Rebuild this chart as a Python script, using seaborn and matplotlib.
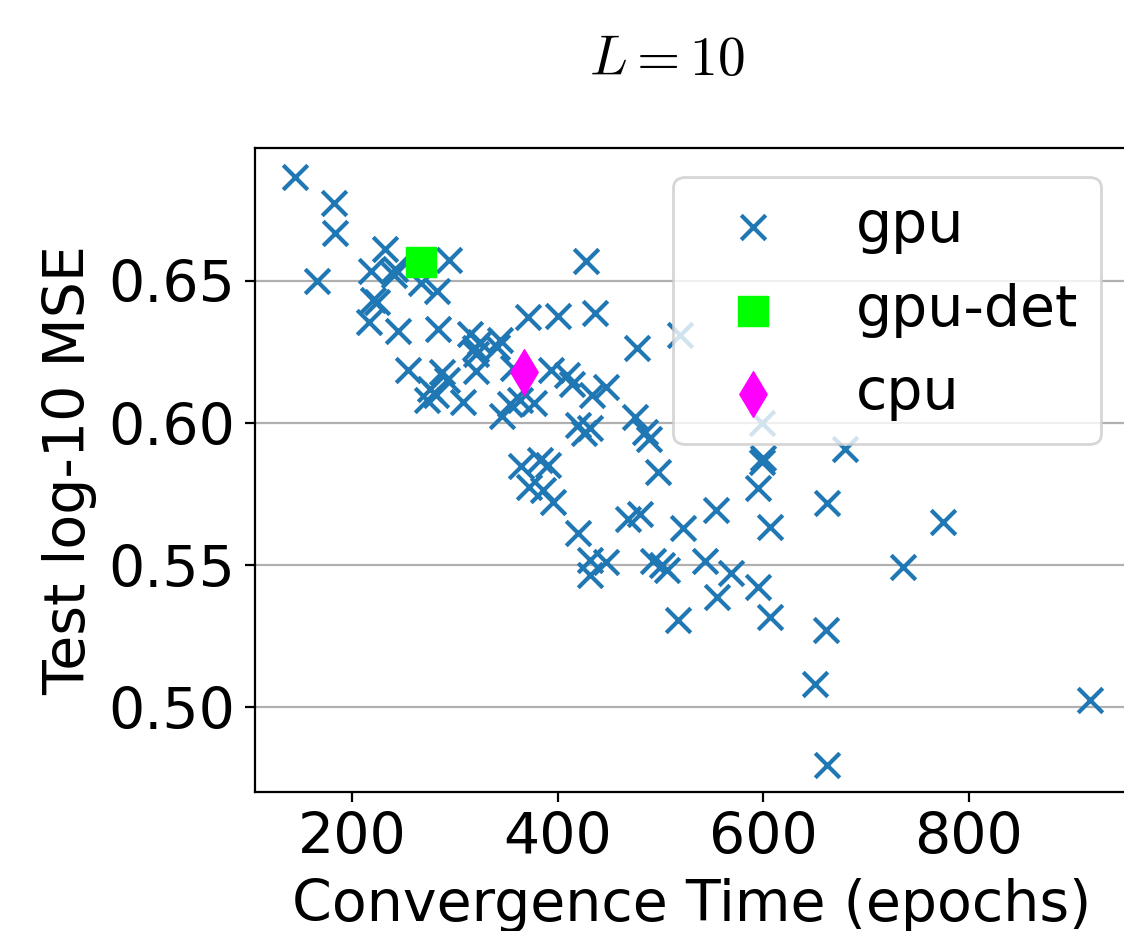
import matplotlib
matplotlib.use("Agg")
import matplotlib.pyplot as plt
import seaborn as sns

# ---------------------------------------------------------------
# data (L = 10 runs)
# ---------------------------------------------------------------
gpu_time = [
    144.5, 182.5, 183.5, 165.7, 232.2, 218.5, 241.8, 240.9, 267.2, 282.8,
    294.4, 220.4, 224.3, 216.5, 244.8, 283.7, 314.8, 319.7, 320.7, 344.0,
    341.1, 324.6, 371.3, 400.5, 436.5, 427.7, 477.4, 519.2, 254.5, 287.6,
    292.5, 275.9, 281.8, 273.0, 308.0, 320.7, 356.7, 393.7, 409.2, 414.1,
    433.6, 447.2, 353.8, 346.0, 377.1, 363.5, 419.9, 425.8, 431.6, 475.4,
    485.2, 489.1, 599.1, 679.9, 497.8, 600.1, 599.1, 595.2, 364.5, 383.0,
    390.8, 372.3, 385.9, 395.6, 419.9, 468.6, 480.3, 522.1, 554.3, 431.6,
    447.2, 431.6, 492.9, 501.7, 506.6, 543.6, 569.0, 555.3, 517.3, 595.2,
    606.9, 606.9, 662.3, 661.3, 650.6, 662.3, 736.3, 775.2, 918.2,
]
gpu_mse = [
    0.6866, 0.6775, 0.6669, 0.6500, 0.6613, 0.6535, 0.6542, 0.6521, 0.6493, 0.6465,
    0.6574, 0.6433, 0.6426, 0.6356, 0.6324, 0.6331, 0.6313, 0.6264, 0.6243, 0.6292,
    0.6268, 0.6285, 0.6373, 0.6377, 0.6387, 0.6570, 0.6264, 0.6310, 0.6187, 0.6180,
    0.6151, 0.6120, 0.6099, 0.6081, 0.6074, 0.6183, 0.6194, 0.6187, 0.6169, 0.6137,
    0.6099, 0.6127, 0.6067, 0.6025, 0.6070, 0.6081, 0.5993, 0.5965, 0.5982, 0.6021,
    0.5968, 0.5944, 0.6000, 0.5908, 0.5827, 0.5877, 0.5863, 0.5771, 0.5849, 0.5870,
    0.5852, 0.5775, 0.5764, 0.5722, 0.5613, 0.5662, 0.5680, 0.5630, 0.5694, 0.5518,
    0.5511, 0.5465, 0.5514, 0.5500, 0.5482, 0.5514, 0.5472, 0.5387, 0.5306, 0.5423,
    0.5634, 0.5317, 0.5718, 0.5271, 0.5081, 0.4796, 0.5493, 0.5651, 0.5025,
]
gpu_det_time = [267.2]
gpu_det_mse = [0.6567]
cpu_time = [367.4]
cpu_mse = [0.6180]

x_ticks = [200, 400, 600, 800]
y_ticks = [0.50, 0.55, 0.60, 0.65]

# ---------------------------------------------------------------
# plot
# ---------------------------------------------------------------
plt.rcParams["mathtext.fontset"] = "cm"
plt.rcParams["font.family"] = ["DejaVu Sans"]

fig = plt.figure(figsize=(5.62, 4.655), dpi=200)
ax = fig.add_axes([0.2269, 0.1493, 0.7776, 0.6917])

sns.scatterplot(x=gpu_time, y=gpu_mse, marker="x", color="#1f77b4",
                s=78, linewidth=1.5, label="gpu", ax=ax, zorder=2)
sns.scatterplot(x=gpu_det_time, y=gpu_det_mse, marker="s", color="#00ff00",
                edgecolor="#00ff00", s=115, linewidth=0.5, label="gpu-det",
                ax=ax, zorder=3)
sns.scatterplot(x=cpu_time, y=cpu_mse, marker="d", color="#ff00ff",
                edgecolor="#ff00ff", s=135, linewidth=0.5, label="cpu",
                ax=ax, zorder=3)

ax.set_xlim(105.5, 956)
ax.set_ylim(0.4701, 0.6968)
ax.set_xticks(x_ticks)
ax.set_yticks(y_ticks)
ax.set_yticklabels([f"{t:.2f}" for t in y_ticks])
ax.tick_params(labelsize=20.5)
ax.grid(axis="y", color="#b0b0b0", linewidth=0.8)
ax.set_axisbelow(True)

ax.set_xlabel("Convergence Time (epochs)", fontsize=20.5)
ax.set_ylabel("Test log-10 MSE", fontsize=20.5)

ax.legend(loc="upper right", fontsize=20.5)

fig.text(667 / 1124, 1 - 60 / 931, r"$L=10$", fontsize=20,
         ha="center", va="center")

fig.savefig("out.png", dpi=200)
